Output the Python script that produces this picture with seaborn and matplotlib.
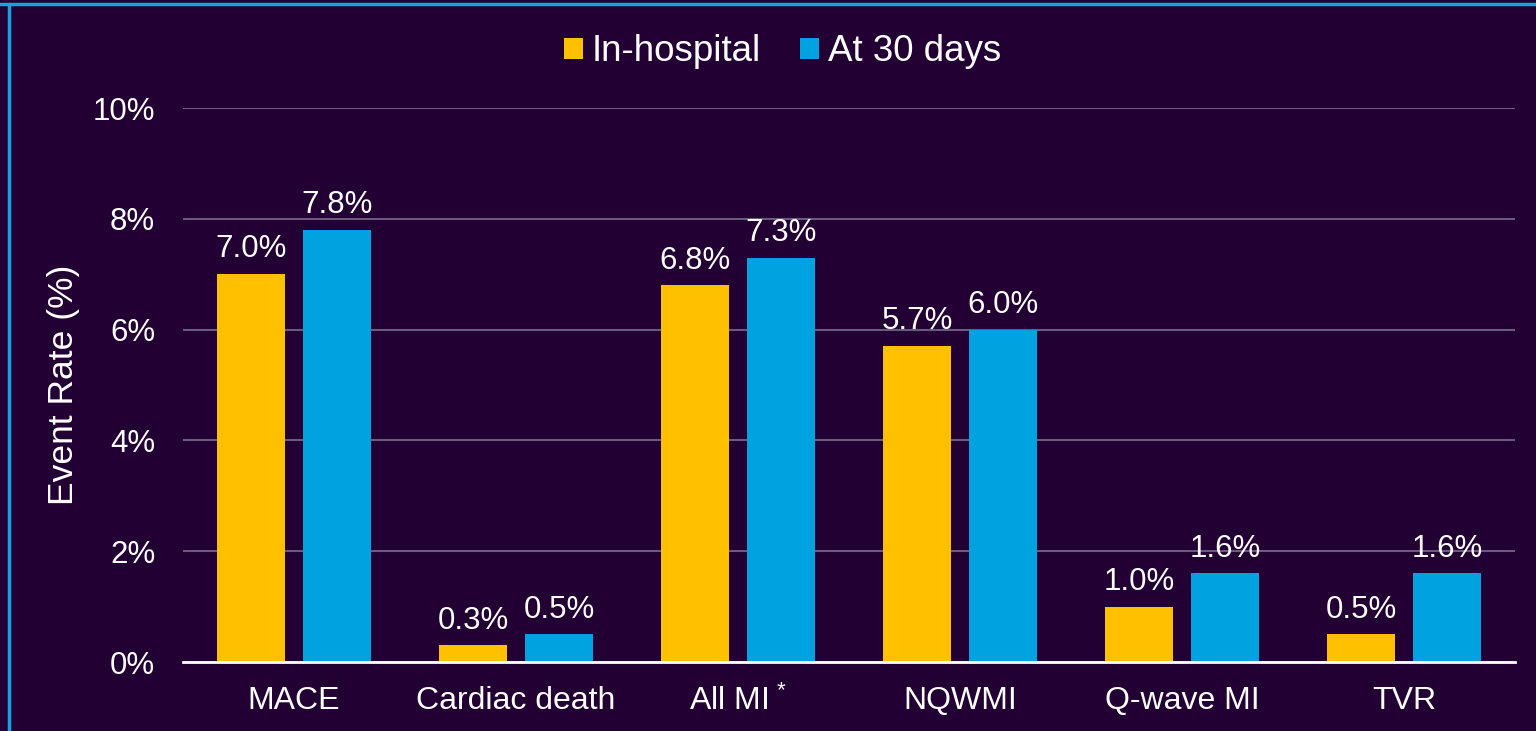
import matplotlib
matplotlib.use("Agg")
import matplotlib.pyplot as plt
import seaborn as sns
import pandas as pd
from matplotlib.lines import Line2D

categories = ["MACE", "Cardiac death", "All MI*", "NQWMI", "Q-wave MI", "TVR"]
in_hospital = [7.0, 0.3, 6.8, 5.7, 1.0, 0.5]
at_30_days = [7.8, 0.5, 7.3, 6.0, 1.6, 1.6]
series_names = ["In-hospital", "At 30 days"]
y_ticks = [0, 2, 4, 6, 8, 10]

BG = "#230033"
YELLOW = "#FFC000"
BLUE = "#00A3E0"

df = pd.DataFrame({
    "Category": categories * 2,
    "Series": [series_names[0]] * len(categories) + [series_names[1]] * len(categories),
    "Value": in_hospital + at_30_days,
})

sns.set_theme(style="white")
plt.rcParams["font.family"] = ["Liberation Sans", "DejaVu Sans"]
plt.rcParams["mathtext.fontset"] = "custom"
plt.rcParams["mathtext.rm"] = "Liberation Sans"
plt.rcParams["mathtext.it"] = "Liberation Sans:italic"
plt.rcParams["mathtext.bf"] = "Liberation Sans:bold"

fig = plt.figure(figsize=(15.36, 7.31), dpi=100, facecolor=BG)
ax = fig.add_axes([183 / 1536, (731 - 662) / 731, (1515 - 183) / 1536, (662 - 108) / 731])
ax.set_facecolor(BG)

sns.barplot(data=df, x="Category", y="Value", hue="Series", order=categories,
            hue_order=series_names, palette=[YELLOW, BLUE], saturation=1,
            width=0.775, gap=0.21, ax=ax, legend=True, edgecolor="none", linewidth=0)

ax.set_xlim(-0.5, len(categories) - 0.5)
ax.set_ylim(0, 10)
ax.set_yticks(y_ticks)
ax.set_yticklabels([f"{t}%" for t in y_ticks])
ax.yaxis.grid(True, color="#6b5a80", linewidth=1.5)
ax.set_axisbelow(True)
for s in ["top", "right", "left"]:
    ax.spines[s].set_visible(False)
ax.spines["bottom"].set_color("white")
ax.spines["bottom"].set_linewidth(2)

tick_labels = [c.replace("*", r"$^{\,*}$") for c in categories]
ax.set_xticks(range(len(categories)))
ax.set_xticklabels(tick_labels)
ax.tick_params(axis="x", colors="white", labelsize=23, length=0, pad=17)
ax.tick_params(axis="y", colors="white", labelsize=22.5, length=0, pad=20)
ax.set_xlabel("")
ax.set_ylabel("Event Rate (%)", color="white", fontsize=25.5, labelpad=9)

for cont in ax.containers:
    ax.bar_label(cont, labels=[f"{v:.1f}%" for v in cont.datavalues],
                 color="white", fontsize=22.5, padding=7)

handles, labels = ax.get_legend_handles_labels()
ax.legend(handles, labels, loc="center", bbox_to_anchor=(0.5095, 0.929),
          bbox_transform=fig.transFigure, ncol=2, frameon=False, fontsize=26.5,
          labelcolor="white", handlelength=0.52, handleheight=0.52,
          handletextpad=0.25, columnspacing=1.05)

fig.add_artist(Line2D([0, 1], [1 - 4 / 731, 1 - 4 / 731], transform=fig.transFigure,
                      color="#1BA1E2", linewidth=2.5))
fig.add_artist(Line2D([9 / 1536, 9 / 1536], [0, 1 - 4 / 731], transform=fig.transFigure,
                      color="#1BA1E2", linewidth=2.5))

fig.savefig("out.png", dpi=100, facecolor=BG)
